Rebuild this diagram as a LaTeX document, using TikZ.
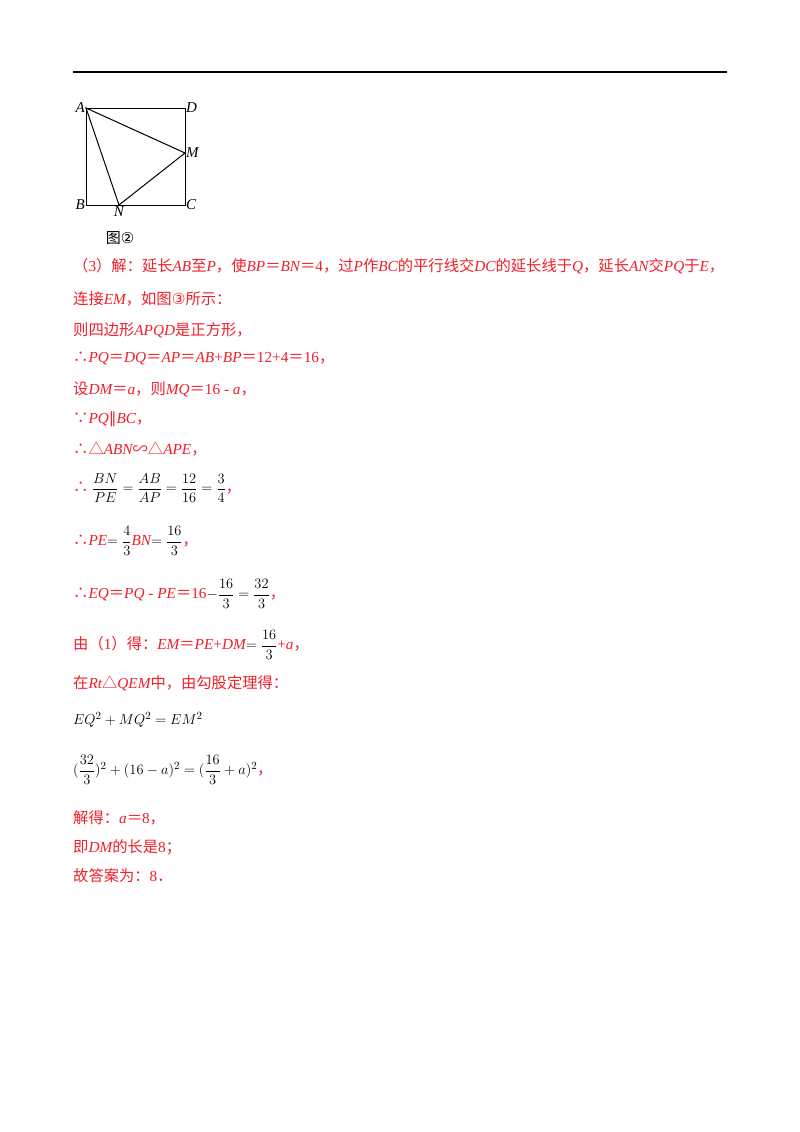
\documentclass[tikz,border=0pt]{standalone}
\usepackage{amsmath}
\usepackage{fontspec}
\setmainfont{Noto Sans CJK SC}
\newfontfamily\lat{Liberation Serif}
\newfontfamily\sym{DejaVu Sans}
\newcommand{\m}[1]{{\lat\itshape #1}}
\newcommand{\n}[1]{{\lat #1}}
\newcommand{\s}[1]{{\sym #1}}
\definecolor{ansred}{RGB}{240,30,40}
\begin{document}
\begin{tikzpicture}[x=1pt,y=-1pt,
    txt/.style={anchor=west,inner sep=0pt,font=\fontsize{15.3}{16}\selectfont,text=ansred},
    lbl/.style={inner sep=1pt,font=\lat\itshape\fontsize{15}{15}\selectfont},
    seg/.style={line width=1pt}]
  \useasboundingbox (0,0) rectangle (800,1132);
  \draw[line width=1.2pt] (73,72) -- (727,72);
  % figure
  \coordinate (A) at (86,108);
  \coordinate (D) at (185,108);
  \coordinate (B) at (86,205);
  \coordinate (C) at (185,205);
  \coordinate (M) at (185,153);
  \coordinate (N) at (119,205);
  \draw[seg] (A) -- (D) -- (C) -- (B) -- cycle;
  \draw[seg] (A) -- (M) -- (N) -- cycle;
  \node[lbl,anchor=east] at (A) {A};
  \node[lbl,anchor=west] at (D) {D};
  \node[lbl,anchor=east] at (B) {B};
  \node[lbl,anchor=west] at (C) {C};
  \node[lbl,anchor=west] at (M) {M};
  \node[lbl,anchor=north] at (N) {N};
  \node[inner sep=0pt,font=\fontsize{15}{15}\selectfont] (cap) at (120,238) {图\s{②}};
  % solution
  \node[txt] (l1) at (73,266) {（\n{3}）解：延长\m{AB}至\m{P}，使\m{BP}＝\m{BN}＝\n{4}，过\m{P}作\m{BC}的平行线交\m{DC}的延长线于\m{Q}，延长\m{AN}交\m{PQ}于\m{E}，};
  \node[txt] (l2) at (73,299) {连接\m{EM}，如图\s{③}所示：};
  \node[txt] (l3) at (73,330) {则四边形\m{APQD}是正方形，};
  \node[txt] (l4) at (73,359) {∴\m{PQ}＝\m{DQ}＝\m{AP}＝\m{AB}\n{+}\m{BP}＝\n{12+4}＝\n{16}，};
  \node[txt] (l5) at (73,389) {设\m{DM}＝\m{a}，则\m{MQ}＝\n{16 - }\m{a}，};
  \node[txt] (l6) at (73,419) {∵\m{PQ}\s{∥}\m{BC}，};
  \node[txt] (l7) at (73,449) {∴△\m{ABN}∽△\m{APE}，};
  \node[txt] (l8) at (73,488) {∴ \textcolor{black}{$\dfrac{BN}{PE}=\dfrac{AB}{AP}=\dfrac{12}{16}=\dfrac{3}{4}$}，};
  \node[txt] (l9) at (73,541) {∴\m{PE}\textcolor{black}{$=\dfrac{4}{3}$}\m{BN}\textcolor{black}{$=\dfrac{16}{3}$}，};
  \node[txt] (l10) at (73,594) {∴\m{EQ}＝\m{PQ}\n{ - }\m{PE}＝\n{16}\textcolor{black}{$-\dfrac{16}{3}=\dfrac{32}{3}$}，};
  \node[txt] (l11) at (73,645) {由（\n{1}）得：\m{EM}＝\m{PE}\n{+}\m{DM}\textcolor{black}{$=\dfrac{16}{3}$}\n{+}\m{a}，};
  \node[txt] (l12) at (73,683) {在\m{Rt}△\m{QEM}中，由勾股定理得：};
  \node[txt,text=black] (l13) at (73,720) {$EQ^2+MQ^2=EM^2$};
  \node[txt] (l14) at (73,770) {\textcolor{black}{$(\dfrac{32}{3})^2+(16-a)^2=(\dfrac{16}{3}+a)^2$}，};
  \node[txt] (l15) at (73,818) {解得：\m{a}＝\n{8}，};
  \node[txt] (l16) at (73,847) {即\m{DM}的长是\n{8}；};
  \node[txt] (l17) at (73,876) {故答案为：\n{8}．};
\end{tikzpicture}
\end{document}
